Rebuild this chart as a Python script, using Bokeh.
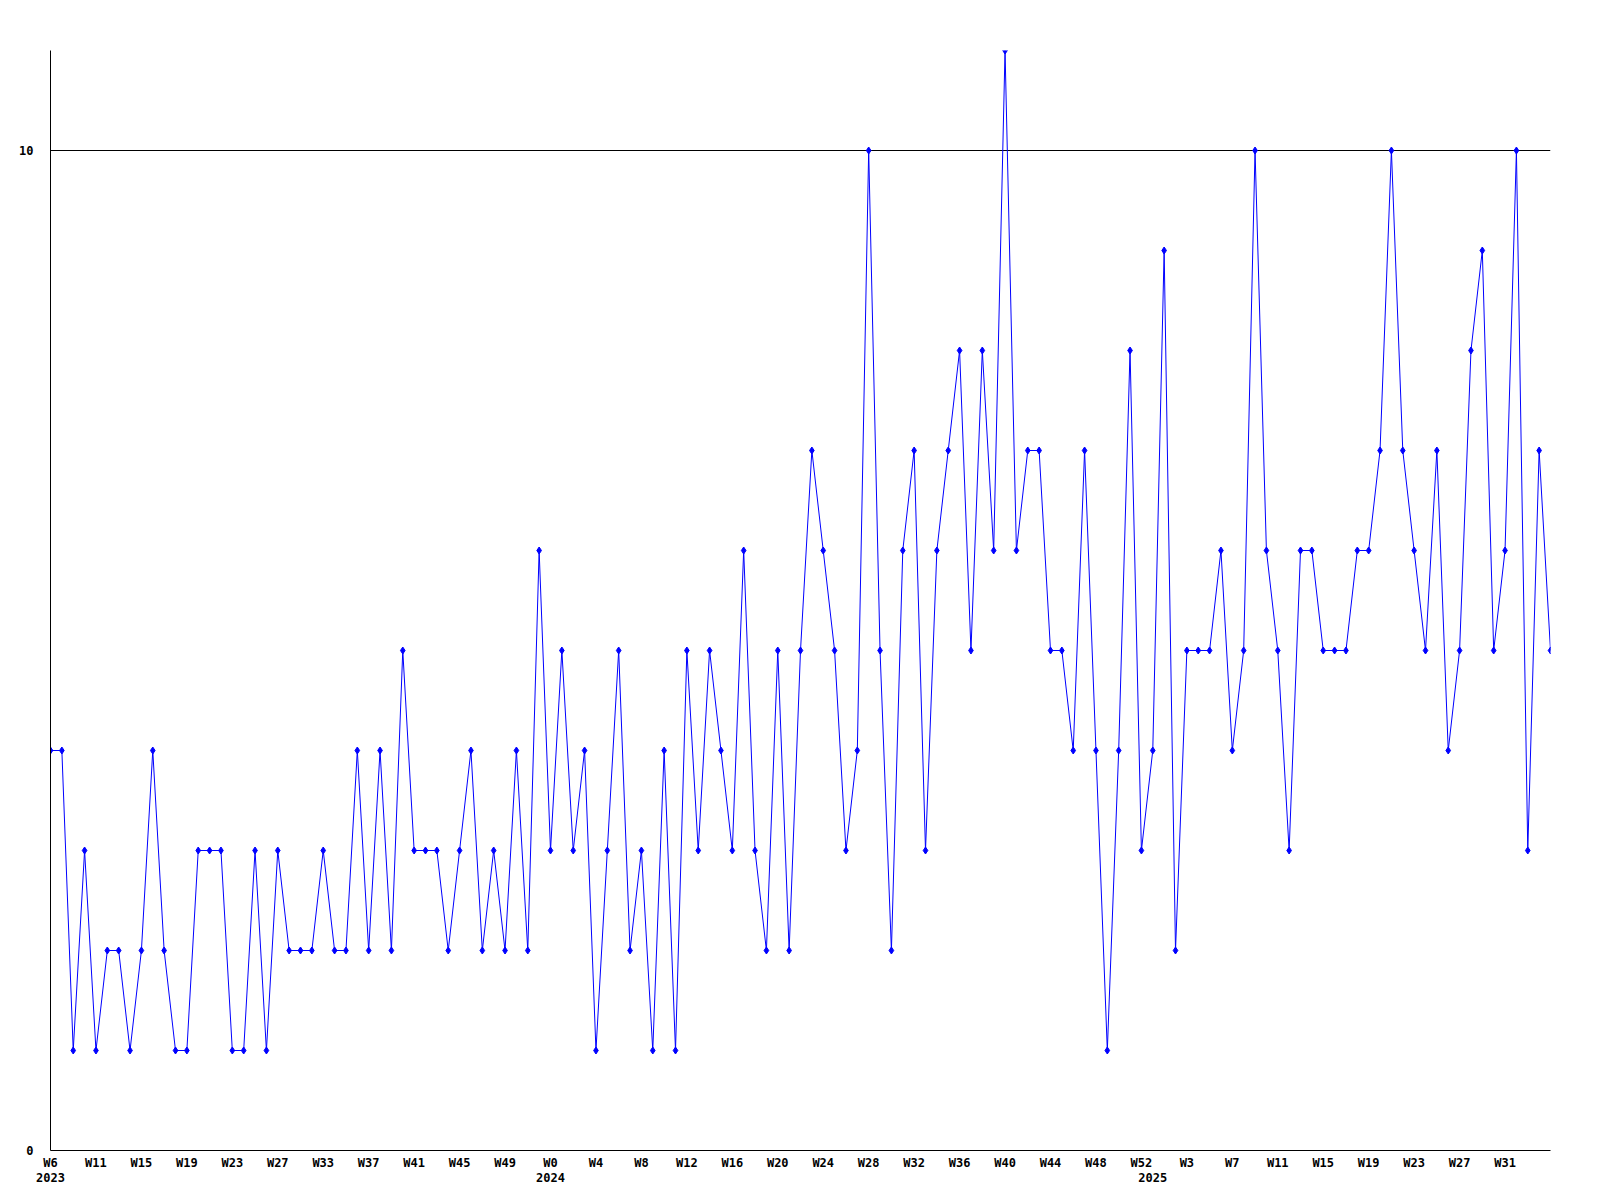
from bokeh.plotting import figure
from bokeh.models import Range1d, FixedTicker, LinearAxis
from bokeh.embed import file_html
from bokeh.resources import INLINE

# weekly counts, 2023 W6 .. 2025 W34 (one value per point)
values = [4, 4, 1, 3, 1, 2, 2, 1, 2, 4,
          2, 1, 1, 3, 3, 3, 1, 1, 3, 1,
          3, 2, 2, 2, 3, 2, 2, 4, 2, 4,
          2, 5, 3, 3, 3, 2, 3, 4, 2, 3,
          2, 4, 2, 6, 3, 5, 3, 4, 1, 3,
          5, 2, 3, 1, 4, 1, 5, 3, 5, 4,
          3, 6, 3, 2, 5, 2, 5, 7, 6, 5,
          3, 4, 10, 5, 2, 6, 7, 3, 6, 7,
          8, 5, 8, 6, 11, 6, 7, 7, 5, 5,
          4, 7, 4, 1, 4, 8, 3, 4, 9, 2,
          5, 5, 5, 6, 4, 5, 10, 6, 5, 3,
          6, 6, 5, 5, 5, 6, 6, 7, 10, 7,
          6, 5, 7, 4, 5, 8, 9, 5, 6, 10,
          3, 7, 5]

# labels shown on every 4th point
week_labels = ["W6", "W11", "W15", "W19", "W23", "W27", "W33", "W37", "W41",
               "W45", "W49", "W0", "W4", "W8", "W12", "W16", "W20", "W24",
               "W28", "W32", "W36", "W40", "W44", "W48", "W52", "W3", "W7",
               "W11", "W15", "W19", "W23", "W27", "W31"]
label_step = 4
year_labels = ["2023", "2024", "2025"]
year_index = [0, 44, 97]
y_ticks = [0, 10]

x = list(range(len(values)))
week_ticks = [i * label_step for i in range(len(week_labels))]

FONT = "DejaVu Sans Mono"
BLUE = "#0000ff"

p = figure(width=1584, height=1184, output_backend="svg", toolbar_location=None,
           x_range=Range1d(0, len(values) - 1), y_range=Range1d(0, 11),
           min_border_left=50, min_border_right=34, min_border_top=50,
           min_border_bottom=34)
p.outline_line_color = None
p.background_fill_color = "white"
p.border_fill_color = "white"

p.xgrid.visible = False
p.ygrid.ticker = FixedTicker(ticks=[10])
p.ygrid.grid_line_color = "black"
p.ygrid.grid_line_width = 1

for ax in (p.xaxis[0], p.yaxis[0]):
    ax.axis_line_color = "black"
    ax.axis_line_width = 1
    ax.major_tick_line_color = None
    ax.minor_tick_line_color = None
    ax.major_tick_out = 0
    ax.major_tick_in = 0
    ax.major_label_text_font = FONT
    ax.major_label_text_font_style = "bold"
    ax.major_label_text_font_size = "12px"
    ax.major_label_text_color = "black"

p.xaxis[0].ticker = FixedTicker(ticks=week_ticks)
p.xaxis[0].major_label_overrides = {t: l for t, l in zip(week_ticks, week_labels)}
p.xaxis[0].major_label_standoff = 5

p.yaxis[0].ticker = FixedTicker(ticks=y_ticks)
p.yaxis[0].major_label_standoff = 17
p.yaxis[0].major_label_text_align = "left"

year_axis = LinearAxis(ticker=FixedTicker(ticks=year_index),
                       major_label_overrides={t: l for t, l in zip(year_index, year_labels)})
year_axis.axis_line_color = None
year_axis.major_tick_line_color = None
year_axis.minor_tick_line_color = None
year_axis.major_tick_out = 0
year_axis.major_tick_in = 0
year_axis.major_label_standoff = 0
year_axis.major_label_text_font = FONT
year_axis.major_label_text_font_style = "bold"
year_axis.major_label_text_font_size = "12px"
year_axis.major_label_text_color = "black"
p.add_layout(year_axis, "below")

p.line(x, values, line_color=BLUE, line_width=1)
p.scatter(x, values, marker="diamond", size=7, color=BLUE)

open("out.html", "w").write(file_html(p, INLINE))
